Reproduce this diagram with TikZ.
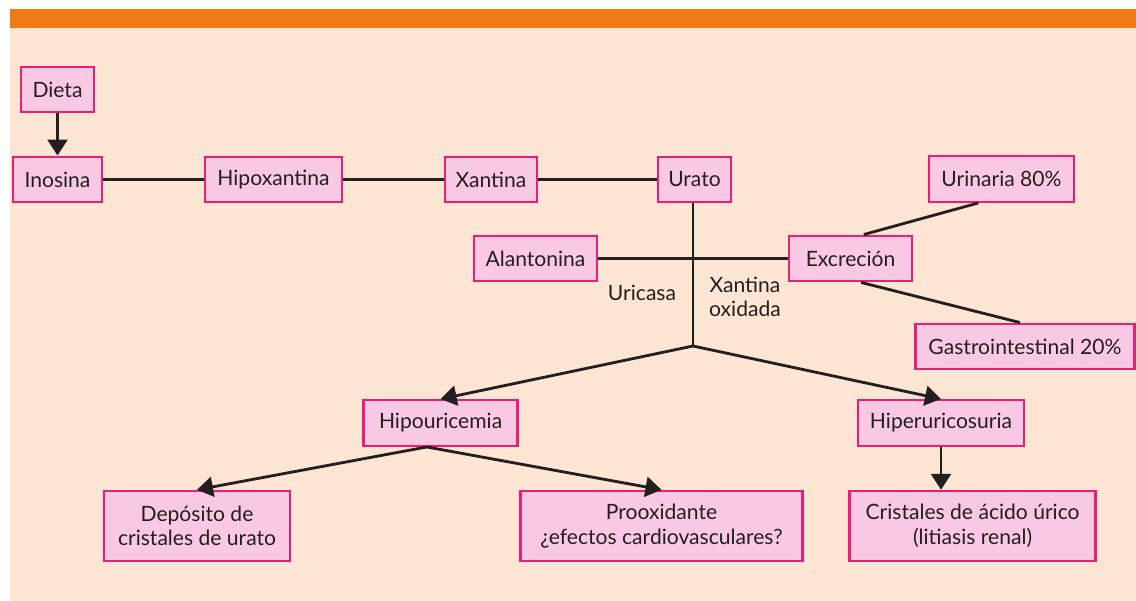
\documentclass[tikz,border=0pt]{standalone}
\usepackage{fontspec}
\setmainfont{Lato}
\usetikzlibrary{arrows.meta}
\definecolor{bgbeige}{RGB}{253,229,211}
\definecolor{barorange}{RGB}{240,122,22}
\definecolor{boxpink}{RGB}{249,201,227}
\definecolor{boxedge}{RGB}{232,30,120}
\definecolor{ink}{RGB}{35,31,32}
\begin{document}
\begin{tikzpicture}[x=0.02cm,y=-0.02cm,
    box/.style={draw=boxedge,fill=boxpink,line width=1.4pt,text=ink,align=center,inner sep=0pt,minimum height=0.91cm,font=\fontsize{12}{14}\selectfont},
    link/.style={draw=ink,line width=1.6pt},
    arr/.style={link,-{Triangle[length=0.32cm,width=0.4cm]}}]
      \useasboundingbox (0,0) rectangle (1136,601);
      \fill[bgbeige] (10,28) rectangle (1136,601);
      \fill[barorange] (10,9) rectangle (1136,28);
      \node[box,minimum width=1.46cm] (dieta) at (57.5,89.5) {Dieta};
      \node[box,minimum width=1.78cm] (ino) at (57.5,179.5) {Inosina};
      \node[box,minimum width=2.74cm] (hipox) at (273.5,179.5) {Hipoxantina};
      \node[box,minimum width=1.84cm] (xan) at (491,179.5) {Xantina};
      \node[box,minimum width=1.46cm] (urato) at (694.5,179.5) {Urato};
      \node[box,minimum width=2.9cm] (urin) at (1001.5,179) {Urinaria 80\%};
      \node[box,minimum width=2.46cm] (alan) at (535.5,258.5) {Alantonina};
      \node[box,minimum width=2.46cm] (exc) at (850.5,258.5) {Excreción};
      \node[box,minimum width=4.38cm] (gastro) at (1025,346.5) {Gastrointestinal 20\%};
      \node[box,minimum width=3.08cm] (hipo) at (440.6,423) {Hipouricemia};
      \node[box,minimum width=3.32cm] (hiper) at (941,423) {Hiperuricosuria};
      \node[box,minimum width=3.72cm,minimum height=1.4cm] (dep) at (197,526) {Depósito de\\cristales de urato};
      \node[box,minimum width=5.64cm,minimum height=1.4cm] (prox) at (661.5,526) {Prooxidante\\¿efectos cardiovasculares?};
      \node[box,minimum width=4.92cm,minimum height=1.4cm] (cris) at (972.6,526) {Cristales de ácido úrico\\(litiasis renal)};
      \node[text=ink,font=\fontsize{12}{14}\selectfont] (uric) at (642,293) {Uricasa};
      \node[text=ink,align=center,font=\fontsize{12}{14}\selectfont] (xox) at (745,297) {Xantina\\oxidada};
      \coordinate (split) at (693,346);
      % cadena principal
      \draw[arr] (dieta) -- (ino);
      \foreach \a/\b in {ino/hipox,hipox/xan,xan/urato} {\draw[link] (\a) -- (\b);}
      \draw[link] (urato.south -| split) -- (split);
      \draw[link] (alan) -- (exc);
      \draw[link] (exc.61) -- (urin.226);
      \draw[link] (exc.294) -- (gastro.102);
      % consecuencias
      \draw[arr] (split) -- (hipo.north);
      \draw[arr] (split) -- (hiper.north);
      \draw[arr] (hipo.240) -- (dep.north);
      \draw[arr] (hipo.240) -- (prox.north);
      \draw[arr] (hiper.south) -- (hiper.south |- cris.north);
   \end{tikzpicture}
\end{document}
